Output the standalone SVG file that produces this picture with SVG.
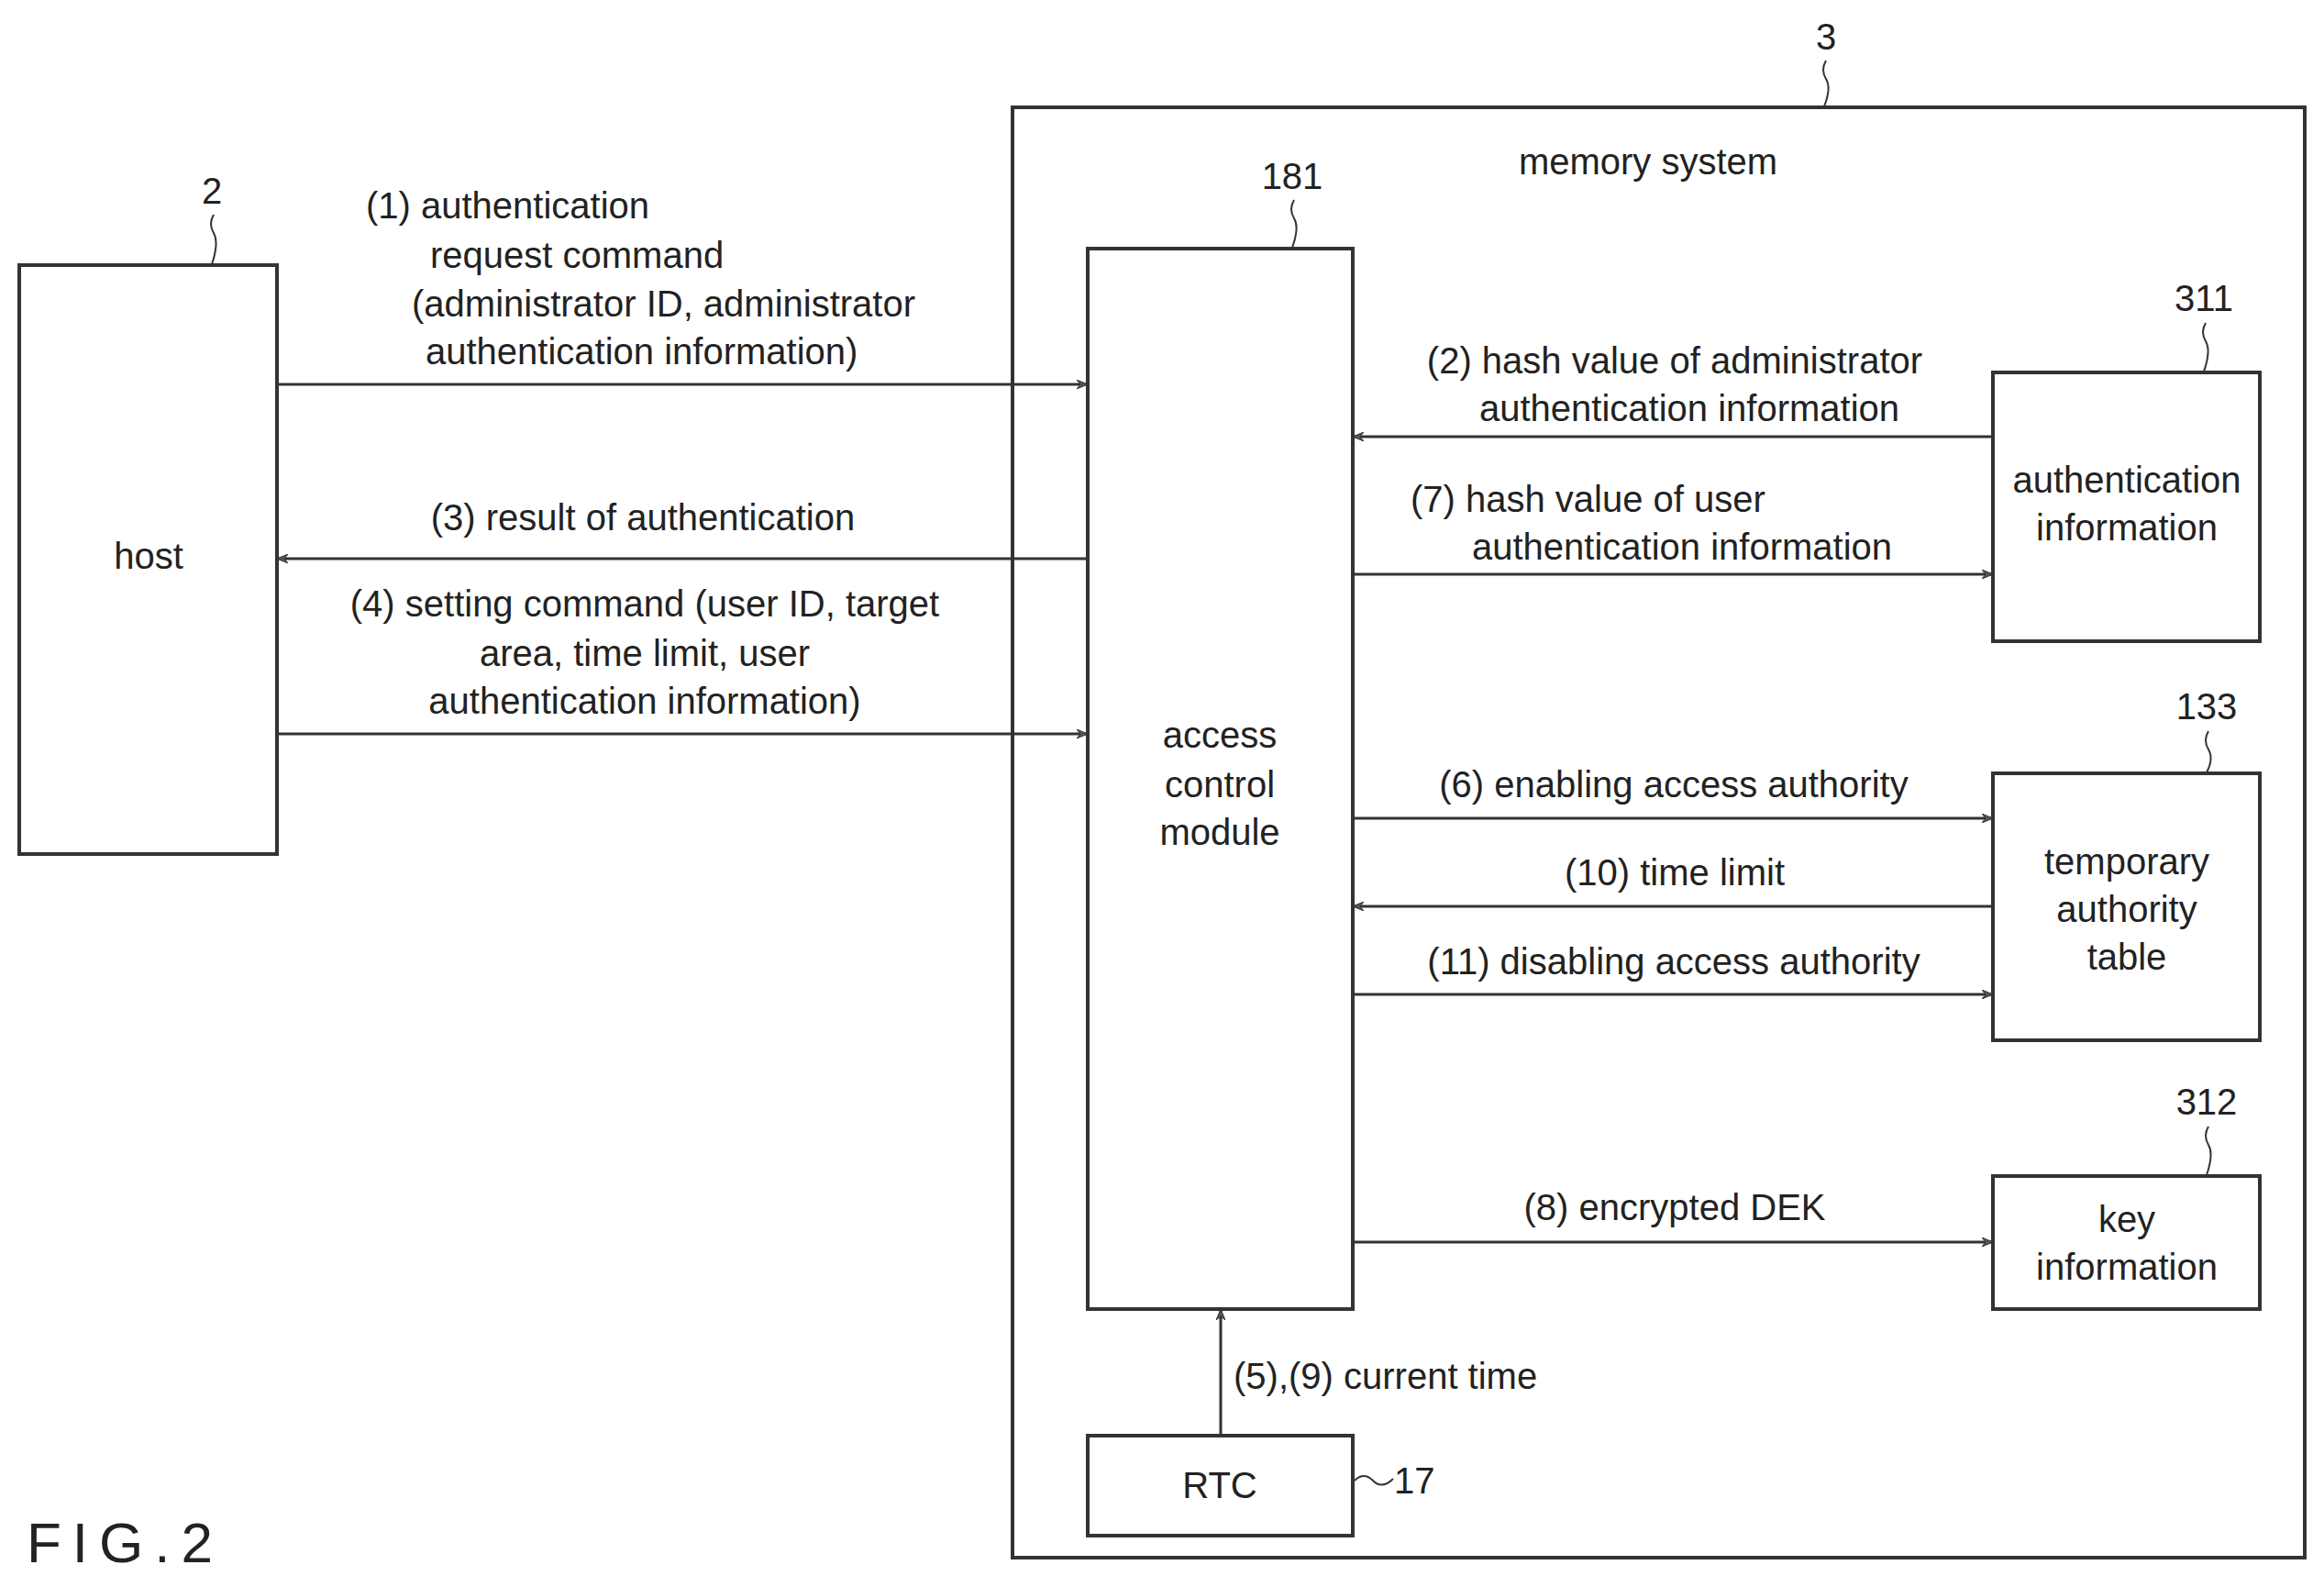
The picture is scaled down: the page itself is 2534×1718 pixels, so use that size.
<svg xmlns="http://www.w3.org/2000/svg" width="2534" height="1718" viewBox="0 0 2534 1718">
<style>
text{font-family:"Liberation Sans",Arial,sans-serif;font-size:40px;fill:#222}
.m{text-anchor:middle}
.b{fill:#fff;stroke:#333;stroke-width:4}
.c{stroke:#333;stroke-width:3;fill:none}
.t{stroke:#333;stroke-width:2;fill:none}
</style>
<defs>
<marker id="a" viewBox="0 0 12 10" refX="12" refY="5" markerWidth="12" markerHeight="10" markerUnits="userSpaceOnUse" orient="auto">
<path d="M0,0 L12,5 L0,10 L4,5 Z" fill="#555" stroke="#333" stroke-width="1"/>
</marker>
</defs>
<rect width="2534" height="1718" fill="#fff"/>
<g id="memory-system">
<rect class="b" x="1104" y="117" width="1409" height="1581"/>
<text class="m" x="1797" y="190">memory system</text>
<text class="m" x="1991" y="54">3</text>
<path class="t" d="M1991,66 q-6,10 0,20 q6,10 -2,30"/>
</g>
<g id="host">
<rect class="b" x="21" y="289" width="281" height="642"/>
<text class="m" x="162" y="620">host</text>
<text class="m" x="231" y="222">2</text>
<path class="t" d="M233,234 q-6,10 0,20 q6,10 -2,34"/>
</g>
<g id="access-control">
<rect class="b" x="1186" y="271" width="289" height="1156"/>
<text class="m" x="1330" y="815">access</text>
<text class="m" x="1330" y="869">control</text>
<text class="m" x="1330" y="921">module</text>
<text class="m" x="1409" y="206">181</text>
<path class="t" d="M1411,218 q-6,10 0,20 q6,10 -2,32"/>
</g>
<g id="auth-info">
<rect class="b" x="2173" y="406" width="291" height="293"/>
<text class="m" x="2319" y="537">authentication</text>
<text class="m" x="2319" y="589">information</text>
<text class="m" x="2403" y="339">311</text>
<path class="t" d="M2405,352 q-6,10 0,20 q6,10 -2,33"/>
</g>
<g id="temp-table">
<rect class="b" x="2173" y="843" width="291" height="291"/>
<text class="m" x="2319" y="953">temporary</text>
<text class="m" x="2319" y="1005">authority</text>
<text class="m" x="2319" y="1057">table</text>
<text class="m" x="2406" y="784">133</text>
<path class="t" d="M2408,797 q-6,10 0,20 q6,10 -2,25"/>
</g>
<g id="key-info">
<rect class="b" x="2173" y="1282" width="291" height="145"/>
<text class="m" x="2319" y="1343">key</text>
<text class="m" x="2319" y="1395">information</text>
<text class="m" x="2406" y="1215">312</text>
<path class="t" d="M2408,1228 q-6,10 0,20 q6,10 -2,33"/>
</g>
<g id="rtc">
<rect class="b" x="1186" y="1565" width="289" height="109"/>
<text class="m" x="1330" y="1633">RTC</text>
<path class="t" d="M1477,1614 q10,-10 20,0 q10,10 22,-2"/>
<text x="1520" y="1628">17</text>
</g>
<g id="connectors">
<path class="c" d="M302,419 H1186" marker-end="url(#a)"/>
<path class="c" d="M1186,609 H302" marker-end="url(#a)"/>
<path class="c" d="M302,800 H1186" marker-end="url(#a)"/>
<path class="c" d="M2173,476 H1475" marker-end="url(#a)"/>
<path class="c" d="M1475,626 H2173" marker-end="url(#a)"/>
<path class="c" d="M1475,892 H2173" marker-end="url(#a)"/>
<path class="c" d="M2173,988 H1475" marker-end="url(#a)"/>
<path class="c" d="M1475,1084 H2173" marker-end="url(#a)"/>
<path class="c" d="M1475,1354 H2173" marker-end="url(#a)"/>
<path class="c" d="M1331,1565 V1427" marker-end="url(#a)"/>
</g>
<g id="labels">
<text x="399" y="238">(1) authentication</text>
<text x="469" y="292">request command</text>
<text x="449" y="345">(administrator ID, administrator</text>
<text x="464" y="397">authentication information)</text>
<text class="m" x="701" y="578">(3) result of authentication</text>
<text class="m" x="703" y="672">(4) setting command (user ID, target</text>
<text class="m" x="703" y="726">area, time limit, user</text>
<text class="m" x="703" y="778">authentication information)</text>
<text class="m" x="1826" y="407">(2) hash value of administrator</text>
<text class="m" x="1842" y="459">authentication information</text>
<text x="1538" y="558">(7) hash value of user</text>
<text x="1605" y="610">authentication information</text>
<text class="m" x="1825" y="869">(6) enabling access authority</text>
<text class="m" x="1826" y="965">(10) time limit</text>
<text class="m" x="1825" y="1062">(11) disabling access authority</text>
<text class="m" x="1826" y="1330">(8) encrypted DEK</text>
<text x="1345" y="1514">(5),(9) current time</text>
<text x="29" y="1703" style="font-size:62px;letter-spacing:12px">FIG.2</text>
</g>
</svg>
